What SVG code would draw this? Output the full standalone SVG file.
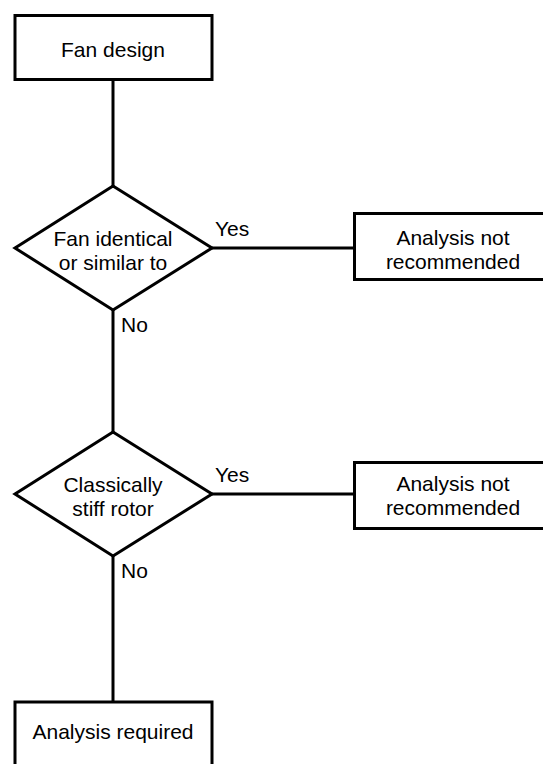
<svg xmlns="http://www.w3.org/2000/svg" width="543" height="764" viewBox="0 0 543 764">
<style>
.box{fill:#fff;stroke:#000;stroke-width:3}
.ln{fill:none;stroke:#000;stroke-width:3}
text{font-family:"Liberation Sans",Arial,sans-serif;font-size:21px;fill:#000}
.c{text-anchor:middle}
</style>
<rect width="543" height="764" fill="#fff"/>
<g id="connectors">
<line class="ln" x1="113" y1="80" x2="113" y2="186"/>
<line class="ln" x1="113" y1="310" x2="113" y2="432"/>
<line class="ln" x1="113" y1="556" x2="113" y2="702"/>
<line class="ln" x1="212" y1="248" x2="354" y2="248"/>
<line class="ln" x1="212" y1="494" x2="354" y2="494"/>
<text x="215" y="236">Yes</text>
<text x="121" y="332">No</text>
<text x="215" y="482">Yes</text>
<text x="121" y="578">No</text>
</g>
<g id="fan-design">
<rect class="box" x="15" y="15.5" width="197" height="64"/>
<text class="c" x="113" y="57">Fan design</text>
</g>
<g id="decision-identical">
<polygon class="box" points="113,186 212,248 113,310 15,248"/>
<text class="c" x="113" y="246">Fan identical</text>
<text class="c" x="113" y="270">or similar to</text>
</g>
<g id="not-recommended-1">
<rect class="box" x="354.5" y="213.5" width="198" height="66"/>
<text class="c" x="453" y="245">Analysis not</text>
<text class="c" x="453" y="269">recommended</text>
</g>
<g id="decision-stiff">
<polygon class="box" points="113,432 212,494 113,556 15,494"/>
<text class="c" x="113" y="492">Classically</text>
<text class="c" x="113" y="516">stiff rotor</text>
</g>
<g id="not-recommended-2">
<rect class="box" x="354.5" y="462.5" width="198" height="66"/>
<text class="c" x="453" y="491">Analysis not</text>
<text class="c" x="453" y="515">recommended</text>
</g>
<g id="analysis-required">
<rect class="box" x="15" y="702" width="197" height="80"/>
<text class="c" x="113" y="739">Analysis required</text>
</g>
</svg>
